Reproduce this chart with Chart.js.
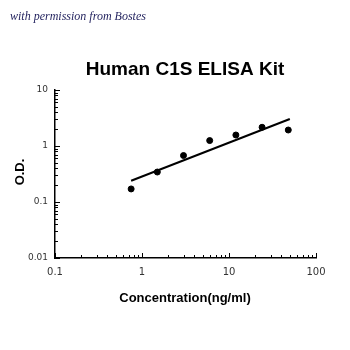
<!DOCTYPE html>
<html><head><meta charset="utf-8">
<script src="https://cdn.jsdelivr.net/npm/chart.js@4.4.0/dist/chart.umd.min.js"></script>
<style>html,body{margin:0;padding:0;background:#fff}#wrap{width:350px;height:350px;position:relative}</style>
</head><body><div id="wrap"><canvas id="c" width="350" height="350"></canvas></div>
<script>
const concentrations = [0.75, 1.5, 3, 6, 12, 24, 48];
const odValues = [0.171, 0.343, 0.676, 1.25, 1.57, 2.16, 1.93];
const fitX = [0.75, 50];
const fitY = [0.24, 3.03];
const xTickValues = [0.1, 1, 10, 100];
const xTickLabels = ['0.1', '1', '10', '100'];
const yTickValues = [0.01, 0.1, 1, 10];
const yTickLabels = ['0.01', '0.1', '1', '10'];
const chartTitle = 'Human C1S ELISA Kit';
const xTitle = 'Concentration(ng/ml)';
const yTitle = 'O.D.';
const watermark = 'with permission from Bostes';

const overlay = {
  id: 'overlay',
  afterDraw(chart) {
    const ctx = chart.ctx, xs = chart.scales.x, ys = chart.scales.y;
    const left = xs.left, bottom = ys.bottom;
    ctx.save();
    ctx.strokeStyle = '#000'; ctx.lineWidth = 1;
    for (let d = -1; d < 2; d++) {
      for (let m = 1; m <= 10; m++) {
        const v = m * Math.pow(10, d);
        const px = Math.round(xs.getPixelForValue(v)) + 0.5;
        const len = (m === 1 || m === 10) ? 5 : 3;
        ctx.beginPath(); ctx.moveTo(px, bottom); ctx.lineTo(px, bottom - len); ctx.stroke();
      }
    }
    for (let d = -2; d < 1; d++) {
      for (let m = 1; m <= 10; m++) {
        const v = m * Math.pow(10, d);
        const py = Math.round(ys.getPixelForValue(v)) + 0.5;
        const len = (m === 1 || m === 10) ? 5 : 3;
        ctx.beginPath(); ctx.moveTo(left, py); ctx.lineTo(left + len, py); ctx.stroke();
      }
    }
    ctx.fillStyle = '#000';
    ctx.textAlign = 'center'; ctx.textBaseline = 'middle';
    ctx.font = 'bold 19px "Liberation Sans", Arial, sans-serif';
    ctx.fillText(chartTitle, 185, 70);
    ctx.font = 'bold 13px "Liberation Sans", Arial, sans-serif';
    ctx.fillText(xTitle, 185, 298);
    ctx.save(); ctx.translate(20, 172); ctx.rotate(-Math.PI / 2);
    ctx.fillText(yTitle, 0, 0); ctx.restore();
    ctx.textAlign = 'left'; ctx.textBaseline = 'alphabetic';
    ctx.fillStyle = '#1f1f5c';
    ctx.font = 'italic 12px "Liberation Serif", serif';
    ctx.fillText(watermark, 10, 20);
    ctx.restore();
  }
};

new Chart(document.getElementById('c'), {
  data: {
    datasets: [
      { type: 'scatter', data: concentrations.map((x, i) => ({ x, y: odValues[i] })),
        backgroundColor: '#000', borderColor: '#000', pointRadius: 3, pointHoverRadius: 3 },
      { type: 'line', data: fitX.map((x, i) => ({ x, y: fitY[i] })),
        borderColor: '#000', borderWidth: 2, pointRadius: 0, fill: false }
    ]
  },
  options: {
    responsive: false, animation: false, devicePixelRatio: 1,
    layout: { padding: { left: 0, top: 90, right: 34, bottom: 0 } },
    plugins: { legend: { display: false }, tooltip: { enabled: false } },
    scales: {
      x: { type: 'logarithmic', min: 0.1, max: 100, position: 'bottom',
        afterFit(s) { s.height = 92; },
        afterBuildTicks(s) { s.ticks = xTickValues.map(v => ({ value: v })); },
        grid: { display: false, drawTicks: false },
        border: { display: true, color: '#000', width: 1.5 },
        ticks: { padding: 8, color: '#333', font: { size: 10, family: '"DejaVu Sans", Verdana, sans-serif' },
          autoSkip: false, maxRotation: 0,
          callback: (v) => { const i = xTickValues.indexOf(v); return i >= 0 ? xTickLabels[i] : ''; } } },
      y: { type: 'logarithmic', min: 0.01, max: 10, position: 'left',
        afterFit(s) { s.width = 55; },
        afterBuildTicks(s) { s.ticks = yTickValues.map(v => ({ value: v })); },
        grid: { display: false, drawTicks: false },
        border: { display: true, color: '#000', width: 1.5 },
        ticks: { padding: 7, color: '#333', font: { size: 9, family: '"DejaVu Sans", Verdana, sans-serif' },
          autoSkip: false,
          callback: (v) => { const i = yTickValues.indexOf(v); return i >= 0 ? yTickLabels[i] : ''; } } }
    }
  },
  plugins: [overlay]
});
</script></body></html>
